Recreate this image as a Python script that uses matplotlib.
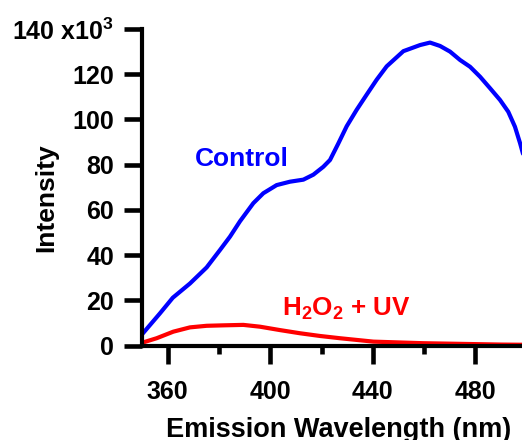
import numpy as np
import matplotlib
matplotlib.use("Agg")
import matplotlib.pyplot as plt
from matplotlib.ticker import MultipleLocator

plt.rcParams['font.family'] = ['Liberation Sans', 'DejaVu Sans']
plt.rcParams['font.weight'] = 'bold'
plt.rcParams['mathtext.fontset'] = 'custom'
plt.rcParams['mathtext.rm'] = 'Liberation Sans:bold'
plt.rcParams['mathtext.it'] = 'Liberation Sans:bold'
plt.rcParams['mathtext.bf'] = 'Liberation Sans:bold'
plt.rcParams['mathtext.default'] = 'regular'

# emission spectra, intensity in units of 10^3
control_x = [350, 357, 362, 368.7, 375.2, 380.4, 384.3, 388.2, 393.4, 397.3, 402.5, 407.7,
             412.9, 416.8, 420.7, 423.3, 426.5, 429.8, 433.7, 437.6, 441.5, 445.4, 451.9,
             458.4, 462.3, 466.2, 470.1, 474, 477.9, 481.8, 485.7, 489.6, 492.8, 495.4,
             497.4, 498.5, 500]
control_y = [5.0, 14.3, 21.2, 27.5, 34.6, 42.3, 48.2, 55, 63, 67.4, 71, 72.5,
             73.4, 75.6, 79.1, 82.1, 89.3, 97.0, 104.3, 111.0, 117.6, 123.5, 130.2,
             132.9, 134, 132.5, 130, 126.3, 123.3, 118.9, 113.8, 108.6, 103.4, 96.8,
             89.5, 85, 79]

treated_x = [350, 355.7, 362.2, 368.7, 375.2, 381.7, 389.5, 396, 403.8, 411.6, 419.4,
             427.2, 440.2, 459.7, 470, 480, 490, 500]
treated_y = [1.3, 3.3, 6.2, 8.1, 8.8, 9.0, 9.2, 8.4, 6.9, 5.5, 4.3,
             3.3, 1.8, 1.1, 0.9, 0.7, 0.5, 0.4]

yticks = [0, 20, 40, 60, 80, 100, 120, 140]
ytick_labels = ['0', '20', '40', '60', '80', '100', '120', '140 x10$^{3}$']
xticks = [360, 400, 440, 480]

fig = plt.figure(figsize=(5.22, 4.4), dpi=100)
ax = fig.add_axes([142 / 522, 94.3 / 440, 384.75 / 522, 316.7 / 440])

ax.plot(control_x, control_y, color='#0000ff', lw=3, solid_capstyle='round',
        solid_joinstyle='round')
ax.plot(treated_x, treated_y, color='#ff0000', lw=3, solid_capstyle='round',
        solid_joinstyle='round')

ax.set_xlim(350, 500)
ax.set_ylim(0, 140)
ax.set_xticks(xticks)
ax.xaxis.set_minor_locator(MultipleLocator(20))
ax.set_yticks(yticks)
ax.set_yticklabels(ytick_labels)

for s in ['top', 'right']:
    ax.spines[s].set_visible(False)
for s in ['left', 'bottom']:
    ax.spines[s].set_linewidth(3)

ax.tick_params(axis='both', which='major', direction='out', length=13, width=3.3,
               labelsize=18, pad=7)
ax.tick_params(axis='x', which='minor', direction='out', length=6, width=3.3)
ax.tick_params(axis='x', which='major', pad=12)

ax.set_xlabel('Emission Wavelength (nm)', fontsize=19.5, fontweight='bold', va='baseline')
ax.xaxis.set_label_coords(0.512, -0.288)
ax.set_ylabel('Intensity', fontsize=19, fontweight='bold', va='center')
ax.yaxis.set_label_coords(-0.25, 0.466)

ax.text(370.7, 79.4, 'Control', color='#0000ff', fontsize=19, fontweight='bold',
        va='baseline', ha='left')
ax.text(404.5, 13.1, 'H$_2$O$_2$ + UV', color='#ff0000', fontsize=18.7, fontweight='bold',
        va='baseline', ha='left')

fig.savefig('out.png', dpi=100)
